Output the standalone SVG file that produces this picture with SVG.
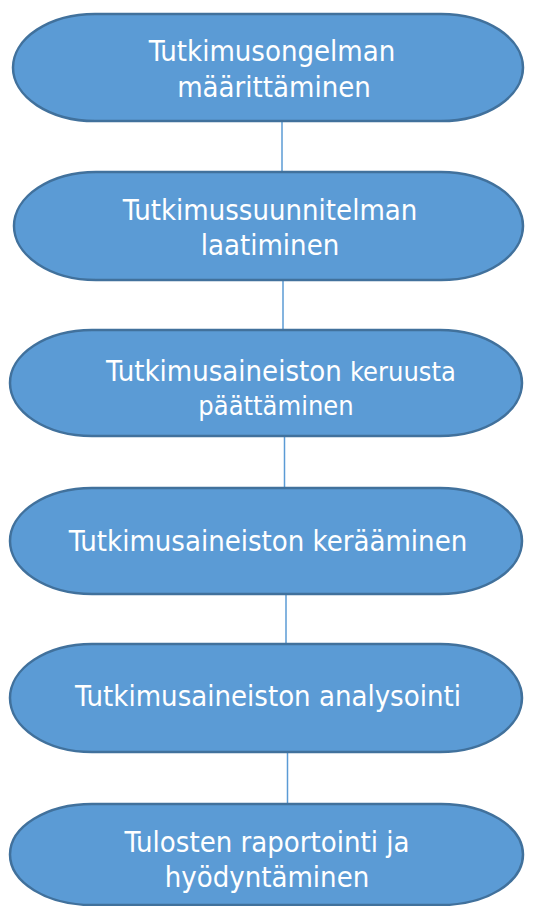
<svg xmlns="http://www.w3.org/2000/svg" width="548" height="906" viewBox="0 0 548 906">
<style>
.node{fill:#5B9BD5;stroke:#41719C;stroke-width:2.5}
.lbl{fill:#ffffff;font-family:"DejaVu Sans Condensed","DejaVu Sans",sans-serif;font-stretch:condensed;font-size:29px;text-anchor:middle}
.sm{font-size:27px}
.conn line{stroke:#5B9BD5;stroke-width:1.5}
</style>
<rect width="548" height="906" fill="#ffffff"/>
<g id="connectors" class="conn">
<line x1="282" y1="121" x2="282" y2="172"/>
<line x1="283" y1="280" x2="283" y2="330"/>
<line x1="284.5" y1="436" x2="284.5" y2="488"/>
<line x1="286" y1="594" x2="286" y2="644"/>
<line x1="287.5" y1="752" x2="287.5" y2="804"/>
</g>
<g id="n1"><rect class="node" x="13" y="14" width="510" height="107" rx="82" ry="53.5"/>
<text class="lbl" x="272" y="61">Tutkimusongelman</text>
<text class="lbl" x="274" y="97">määrittäminen</text></g>
<g id="n2"><rect class="node" x="14" y="172" width="509" height="108" rx="82" ry="54"/>
<text class="lbl" x="270" y="220">Tutkimussuunnitelman</text>
<text class="lbl" x="270" y="255">laatiminen</text></g>
<g id="n3"><rect class="node" x="10" y="330" width="512" height="106" rx="82" ry="53"/>
<text class="lbl" x="281" y="381">Tutkimusaineiston <tspan class="sm">keruusta</tspan></text>
<text class="lbl sm" x="276" y="415">päättäminen</text></g>
<g id="n4"><rect class="node" x="10" y="488" width="512" height="106" rx="82" ry="53"/>
<text class="lbl" x="268" y="551">Tutkimusaineiston kerääminen</text></g>
<g id="n5"><rect class="node" x="10" y="644" width="512" height="108" rx="82" ry="54"/>
<text class="lbl" x="268" y="706">Tutkimusaineiston analysointi</text></g>
<g id="n6"><rect class="node" x="10" y="804" width="513" height="101" rx="82" ry="50.5"/>
<text class="lbl" x="267" y="852">Tulosten raportointi ja</text>
<text class="lbl" x="267" y="887">hyödyntäminen</text></g>
</svg>
